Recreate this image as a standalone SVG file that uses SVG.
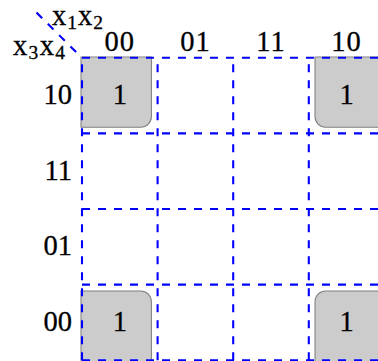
<svg xmlns="http://www.w3.org/2000/svg" width="378" height="361" viewBox="0 0 378 361">
<style>
text{font-family:"Liberation Serif","DejaVu Serif",serif;font-size:28.5px;fill:#000;stroke:#000;stroke-width:0.3}
.sub{font-size:19.5px}
.c{text-anchor:middle}
.r{text-anchor:end}
.box{fill:#cccccc;stroke:#808080;stroke-width:1.07}
.grid{stroke:#0000ff;stroke-width:2.1;stroke-dasharray:8 8;fill:none}
</style>
<rect width="378" height="361" fill="#fff"/>
<g id="cell-0000">
<path class="box" d="M81,57 H151.4 V116.5 A10.7,10.7 0 0 1 140.7,127.2 H81 Z"/>
<text class="c" x="119.8" y="104">1</text>
</g>
<g id="cell-1000">
<path class="box" d="M400,57 H315 V116.5 A10.7,10.7 0 0 0 325.7,127.2 H400 Z"/>
<text class="c" x="346.6" y="104">1</text>
</g>
<g id="cell-0010">
<path class="box" d="M81,362 V291 H140.7 A10.7,10.7 0 0 1 151.4,301.7 V362 Z"/>
<text class="c" x="119.8" y="330.8">1</text>
</g>
<g id="cell-1010">
<path class="box" d="M400,362 V291 H325.7 A10.7,10.7 0 0 0 315,301.7 V362 Z"/>
<text class="c" x="346.6" y="330.8">1</text>
</g>
<g id="connectors">
<path class="grid" d="M36.5,12.5 L77,53"/>
<path class="grid" d="M82,57.8 H384.4 M82,133.4 H384.4 M82,209 H384.4 M82,284.6 H384.4 M82,360.2 H384.4"/>
<path class="grid" d="M82,360.2 V57.8 M157.6,360.2 V57.8 M233.2,360.2 V57.8 M308.8,360.2 V57.8 M384.4,360.2 V57.8"/>
</g>
<g id="var-labels">
<text x="52" y="25" textLength="51" lengthAdjust="spacing">x<tspan class="sub" dy="3.5">1</tspan><tspan dy="-3.5">x</tspan><tspan class="sub" dy="3.5">2</tspan></text>
<text x="13" y="55" textLength="52" lengthAdjust="spacing">x<tspan class="sub" dy="3.5">3</tspan><tspan dy="-3.5">x</tspan><tspan class="sub" dy="3.5">4</tspan></text>
</g>
<g id="col-labels">
<text class="c" x="119.8" y="50.5" letter-spacing="1">00</text>
<text class="c" x="195.4" y="50.5" letter-spacing="1">01</text>
<text class="c" x="271" y="50.5" letter-spacing="1">11</text>
<text class="c" x="346.6" y="50.5" letter-spacing="1">10</text>
</g>
<g id="row-labels">
<text class="r" x="72" y="104">10</text>
<text class="r" x="72" y="179.6">11</text>
<text class="r" x="72" y="255.2">01</text>
<text class="r" x="72" y="330.8">00</text>
</g>
</svg>
